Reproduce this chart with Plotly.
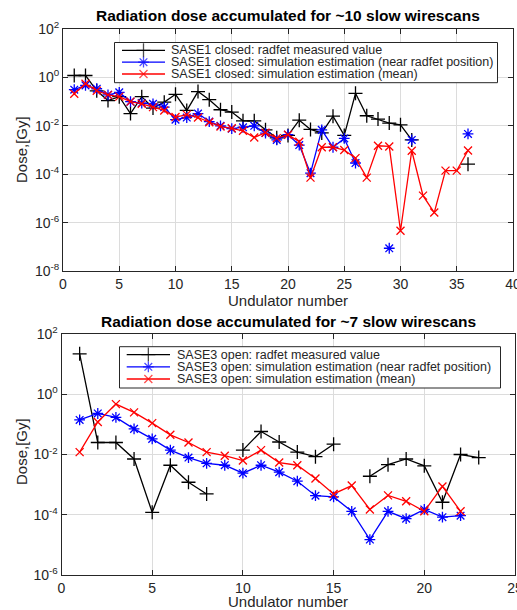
import plotly.graph_objects as go

# ---------------- data (Dose in Gy) ----------------
top_x = list(range(1, 37))
top_radfet = [1.2, 1.2, 0.28, 0.11, 0.16, 0.032, 0.16, 0.054, 0.095, 0.20,
              0.043, 0.26, 0.12, 0.046, 0.037, 0.016, 0.016, 0.0068, 0.0032, 0.0040,
              0.017, 0.0071, 0.0051, 0.025, 0.0040, 0.22, 0.026, 0.019, 0.013, 0.011,
              0.0026, None, None, None, None, 0.00026]
top_sim_near = [0.31, 0.47, 0.34, 0.19, 0.24, 0.10, 0.087, 0.081, 0.059, 0.018,
                0.022, 0.032, 0.015, 0.010, 0.0076, 0.0087, 0.010, 0.0050, 0.0026, 0.0043,
                0.0016, 0.00011, 0.0068, 0.0013, 0.0030, 0.00029, None, None, 8.7e-8, None,
                0.0026, None, None, None, None, 0.0046]
top_sim_mean = [0.21, 0.55, 0.28, 0.19, 0.16, 0.10, 0.081, 0.059, 0.043, 0.023,
                0.029, 0.022, 0.014, 0.0093, 0.0079, 0.0062, 0.0033, 0.0052, 0.0031, 0.0043,
                0.0022, 7.2e-5, 0.0013, 0.0013, 0.0010, 0.00046, 7.2e-5, 0.0015, 0.0014, 4.6e-7,
                0.00093, 1.3e-5, 2.6e-6, 0.00014, 0.00014, 0.00095]

bot_x = list(range(1, 24))
bot_radfet = [22, 0.025, 0.025, 0.0071, 0.00012, 0.0044, 0.0012, 0.00049, None, 0.014,
              0.058, 0.026, 0.012, 0.0085, 0.022, None, 0.0019, 0.0046, 0.0071, 0.0042,
              0.00026, 0.010, 0.0079]
bot_sim_near = [0.14, 0.23, 0.17, 0.071, 0.033, 0.014, 0.0079, 0.0051, 0.0044, 0.0024,
                0.0044, 0.0026, 0.0013, 0.00043, 0.00039, 0.00013, 1.5e-5, 0.00013, 7.4e-5, 0.00015,
                8.3e-5, 9.3e-5, None]
bot_sim_mean = [0.012, 0.12, 0.47, 0.25, 0.11, 0.045, 0.025, 0.012, 0.0091, 0.0063,
                0.014, 0.0054, 0.0044, 0.0016, 0.00049, 0.00093, 0.00015, 0.00044, 0.00028, 0.00013,
                0.00087, 0.00013, None]

top_title = "Radiation dose accumulated for ~10 slow wirescans"
bot_title = "Radiation dose accumulated for ~7 slow wirescans"
top_names = ["SASE1 closed: radfet measured value",
             "SASE1 closed: simulation estimation (near radfet position)",
             "SASE1 closed: simulation estimation (mean)"]
bot_names = ["SASE3 open: radfet measured value",
             "SASE3 open: simulation estimation (near radfet position)",
             "SASE3 open: simulation estimation (mean)"]
x_title = "Undulator number"
y_title = "Dose,[Gy]"
top_yticks = [1e-8, 1e-6, 1e-4, 1e-2, 1e0, 1e2]
top_ylabels = ["10<sup>-8</sup>", "10<sup>-6</sup>", "10<sup>-4</sup>", "10<sup>-2</sup>", "10<sup>0</sup>", "10<sup>2</sup>"]
bot_yticks = [1e-6, 1e-4, 1e-2, 1e0, 1e2]
bot_ylabels = ["10<sup>-6</sup>", "10<sup>-4</sup>", "10<sup>-2</sup>", "10<sup>0</sup>", "10<sup>2</sup>"]
top_xticks = list(range(0, 41, 5))
bot_xticks = list(range(0, 26, 5))

FONT = "Liberation Sans, Arial, Helvetica, sans-serif"
W, H = 517, 610
AXC = "#262626"

styles = [
    dict(color="black", symbol="cross-thin-open", size=10),
    dict(color="#0000ff", symbol="asterisk-open", size=9),
    dict(color="#ff0000", symbol="x-thin-open", size=8),
]

fig = go.Figure()


def add_group(x, ys, names, xa, ya):
    for y, name, st in zip(ys, names, styles):
        fig.add_trace(go.Scatter(
            x=x, y=y, name=name, mode="lines+markers",
            xaxis=xa, yaxis=ya, connectgaps=False, showlegend=False,
            line=dict(color=st["color"], width=1.3),
            marker=dict(symbol=st["symbol"], size=st["size"], color=st["color"],
                        line=dict(color=st["color"], width=1.3)),
        ))


add_group(top_x, [top_radfet, top_sim_near, top_sim_mean], top_names, "x", "y")
add_group(bot_x, [bot_radfet, bot_sim_near, bot_sim_mean], bot_names, "x2", "y2")

# ---------------- legends drawn in a pixel-coordinate overlay subplot ----------------
shapes = []
annotations = []


def add_legend(box, rows, line_x, text_x, names):
    x0, y0, x1, y1 = box
    shapes.append(dict(type="rect", xref="x3", yref="y3", x0=x0, y0=y0, x1=x1, y1=y1,
                       line=dict(color=AXC, width=1), fillcolor="white", layer="below"))
    for ry, name, st in zip(rows, names, styles):
        xc = (line_x[0] + line_x[1]) / 2
        fig.add_trace(go.Scatter(
            x=[line_x[0], xc, line_x[1]], y=[ry, ry, ry], mode="lines+markers",
            xaxis="x3", yaxis="y3", showlegend=False, hoverinfo="skip",
            line=dict(color=st["color"], width=1.3),
            marker=dict(symbol=st["symbol"], size=[0, st["size"], 0], color=st["color"],
                        line=dict(color=st["color"], width=1.3)),
        ))
        annotations.append(dict(text=name, x=text_x / W, y=1 - ry / H, xref="paper", yref="paper",
                                xanchor="left", yanchor="middle", showarrow=False,
                                font=dict(family=FONT, size=12.5, color=AXC)))


add_legend((114.5, 42.5, 497.5, 82.7), [50.3, 62.2, 74.0], (122, 165), 169, top_names)
add_legend((119.5, 346.7, 500.5, 388.0), [354.6, 366.8, 379.0], (126.7, 170), 175, bot_names)

# titles and axis titles
for txt, y in [(top_title, 15), (bot_title, 321)]:
    annotations.append(dict(text="<b>" + txt + "</b>", x=288 / W, y=1 - y / H, xref="paper", yref="paper",
                            xanchor="center", yanchor="middle", showarrow=False,
                            font=dict(family=FONT, size=15.5, color="black")))
for y in [300, 601]:
    annotations.append(dict(text=x_title, x=288 / W, y=1 - y / H, xref="paper", yref="paper",
                            xanchor="center", yanchor="middle", showarrow=False,
                            font=dict(family=FONT, size=15, color=AXC)))
for y in [150, 452]:
    annotations.append(dict(text=y_title, x=21 / W, y=1 - y / H, xref="paper", yref="paper",
                            xanchor="center", yanchor="middle", showarrow=False, textangle=-90,
                            font=dict(family=FONT, size=15, color=AXC)))

axcommon = dict(showline=True, linecolor=AXC, linewidth=1, mirror="allticks",
                ticks="inside", ticklen=5, tickcolor=AXC, automargin=False,
                ticklabeloverflow="allow",
                showgrid=True, gridcolor="#dcdcdc", gridwidth=1, zeroline=False,
                tickfont=dict(family=FONT, size=14, color=AXC))

fig.update_layout(
    width=W, height=H,
    margin=dict(l=0, r=0, t=0, b=0, autoexpand=False),
    paper_bgcolor="white", plot_bgcolor="rgba(0,0,0,0)",
    font=dict(family=FONT, color=AXC),
    showlegend=False,
    xaxis=dict(domain=[63 / W, 513 / W], range=[0, 40], tickvals=top_xticks,
               anchor="y", **axcommon),
    yaxis=dict(domain=[1 - 271 / H, 1 - 29 / H], type="log", range=[-8, 2],
               tickvals=top_yticks, ticktext=top_ylabels, anchor="x", **axcommon),
    xaxis2=dict(domain=[61.5 / W, 515 / W], range=[0, 25], tickvals=bot_xticks,
                anchor="y2", **axcommon),
    yaxis2=dict(domain=[1 - 575 / H, 1 - 334 / H], type="log", range=[-6, 2],
                tickvals=bot_yticks, ticktext=bot_ylabels, anchor="x2", **axcommon),
    xaxis3=dict(domain=[0, 1], range=[0, W], visible=False, fixedrange=True, anchor="y3"),
    yaxis3=dict(domain=[0, 1], range=[H, 0], visible=False, fixedrange=True, anchor="x3"),
    shapes=shapes,
    annotations=annotations,
)

fig.write_html("out.html", config={"displayModeBar": False},
               post_script=("document.body.style.margin='0';document.body.style.padding='0';"
                            "document.body.style.overflow='hidden';"
                            "document.documentElement.style.overflow='hidden';"))
